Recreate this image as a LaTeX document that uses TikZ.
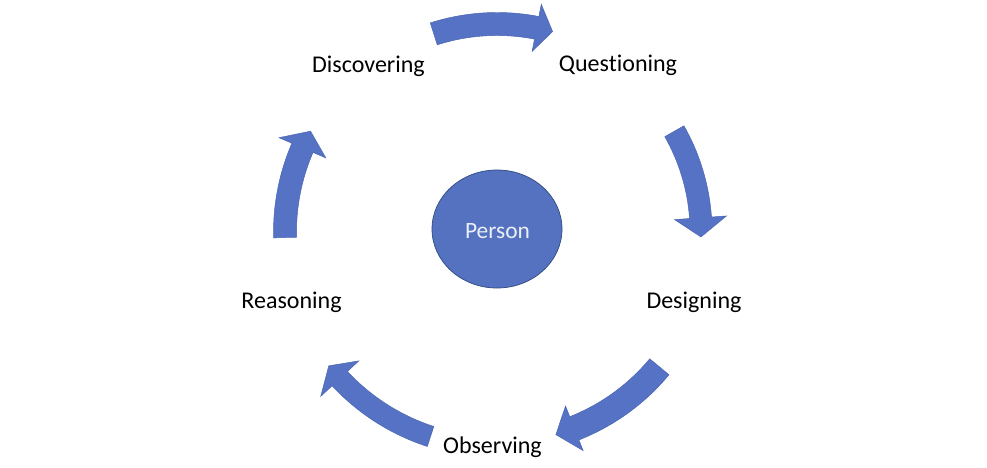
\documentclass[tikz,border=0pt]{standalone}
\usepackage{fontspec}
\setmainfont[Ligatures=NoCommon]{Carlito}
\usetikzlibrary{shapes.geometric}
\definecolor{arrowblue}{RGB}{85,114,196}
\definecolor{arrowline}{RGB}{72,100,178}
\definecolor{circlefill}{RGB}{84,114,192}
\definecolor{circleline}{RGB}{47,74,128}
\definecolor{persontext}{RGB}{236,239,247}
% #1 tail angle, #2 head base angle, #3 tip angle, #4 radius, #5 shaft half width, #6 head half width
\newcommand{\cycarrow}[6]{%
  \pgfmathsetmacro{\ro}{#4+#5}%
  \pgfmathsetmacro{\ri}{#4-#5}%
  \pgfmathsetmacro{\ho}{#4+#6}%
  \pgfmathsetmacro{\hi}{#4-#6}%
  \filldraw[arrowshape] (#1:\ro) arc[start angle=#1, end angle=#2, radius=\ro]
    -- (#2:\ho) -- (#3:#4) -- (#2:\hi) -- (#2:\ri)
    arc[start angle=#2, end angle=#1, radius=\ri] -- cycle;%
}
\begin{document}
\begin{tikzpicture}[x=0.03cm,y=0.03cm,
  lbl/.style={anchor=base, font=\fontsize{20.5}{24}\selectfont, text=black, inner sep=0pt},
  arrowshape/.style={fill=arrowblue, draw=arrowline, line width=0.4pt, line join=miter},
  centre/.style={ellipse, fill=circlefill, draw=circleline, line width=0.6pt,
    minimum width=3.9cm, minimum height=3.54cm, inner sep=0pt,
    text=persontext, font=\fontsize{20}{24}\selectfont}]
\useasboundingbox (0,0) rectangle (987,467);
\fill[white] (0,0) rectangle (987,467);
\coordinate (C) at (497,235);
\begin{scope}[shift={(C)}]
  \cycarrow{107.7}{79}{74.5}{208}{11.5}{24}
  \cycarrow{29.6}{4}{-1.4}{204}{11}{26}
  \cycarrow{-39.7}{-68.5}{-73.8}{211}{12.5}{24}
  \cycarrow{-108}{-137}{-141.5}{215}{10.5}{26}
  \cycarrow{181.5}{156.6}{151.6}{212}{11.5}{25.5}
\end{scope}
\node[centre] (person) at (497,238) {};
\node[anchor=base, text=persontext, font=\fontsize{20}{24}\selectfont, inner sep=0pt] (persontxt) at (497.5,229) {Person};
\node[lbl] (discovering) at (368.5,394) {Discovering};
\node[lbl] (questioning) at (618,395) {Questioning};
\node[lbl] (designing) at (694,159) {Designing};
\node[lbl] (observing) at (492.5,14) {Observing};
\node[lbl] (reasoning) at (291.5,159) {Reasoning};
\end{tikzpicture}
\end{document}
